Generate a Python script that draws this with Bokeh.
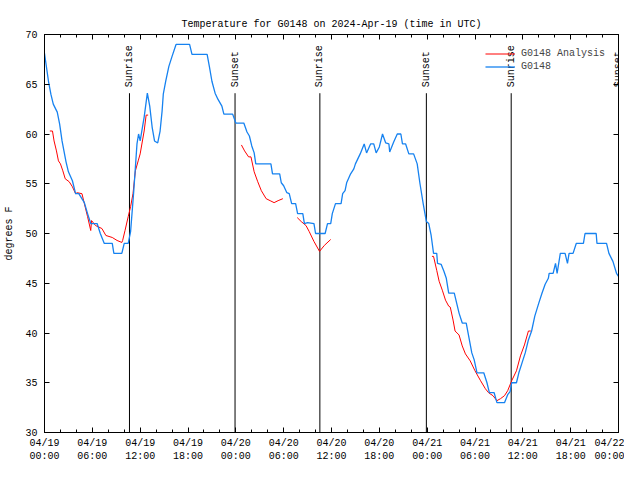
import math
from bokeh.plotting import figure
from bokeh.models import (FixedTicker, LinearAxis, Range1d, ColumnDataSource,
                          LabelSet, Legend, LegendItem, CustomJSTickFormatter)
from bokeh.core.properties import value
from bokeh.embed import file_html
from bokeh.resources import INLINE

NaN = float("nan")

# ---- data: hours since 2024-04-19 00:00 UTC ----
obs_hours = [0.0, 0.5, 0.8, 1.1, 1.6, 1.9, 2.2, 2.7, 3.0, 3.5, 3.9, 4.3, 5.0, 5.4, 5.8,
             6.6, 7.0, 7.5, 8.5, 8.7, 9.7, 10.0, 10.5, 10.8, 11.2, 11.6, 11.8, 12.0, 12.5,
             12.9, 13.2, 13.5, 13.8, 14.2, 14.5, 14.75, 14.9, 15.2, 15.6, 16.0, 16.5,
             18.2, 18.5, 20.4, 20.7, 21.0, 21.4, 21.75, 22.25, 22.5, 23.6, 24.0, 25.0,
             25.4, 25.7, 26.0, 26.3, 26.5, 28.4, 28.6, 29.5, 29.7, 30.0, 30.4, 30.7,
             31.0, 31.5, 31.75, 32.4, 32.6, 33.0, 33.8, 34.0, 35.2, 35.5, 35.9, 36.1,
             36.5, 37.2, 37.4, 37.7, 37.9, 38.4, 38.8, 39.0, 39.6, 40.1, 40.4, 40.9,
             41.3, 41.6, 42.0, 42.4, 42.8, 43.2, 43.3, 43.8, 44.25, 44.7, 44.9, 45.3,
             45.7, 46.3, 46.75, 47.1, 47.5, 47.9, 48.2, 48.5, 48.8, 49.2, 49.3, 49.75,
             50.1, 50.4, 50.7, 51.4, 51.7, 52.0, 52.4, 52.9, 53.2, 53.6, 53.9, 54.25,
             55.1, 55.5, 55.8, 56.4, 56.75, 57.7, 58.1, 58.4, 58.6, 59.2, 59.5, 59.9,
             60.3, 60.7, 61.1, 61.5, 62.0, 62.4, 62.8, 63.2, 63.3, 63.8, 64.1, 64.3,
             64.7, 65.3, 65.6, 65.8, 66.3, 66.7, 67.6, 67.8, 69.2, 69.3, 70.5, 70.8,
             71.3, 71.75, 72.0]
obs_temps = [68.1, 65.3, 64.0, 63.0, 62.2, 61.0, 59.3, 57.2, 56.2, 55.3, 54.0, 54.0, 53.1, 52.0, 51.0,
             51.0, 50.0, 49.0, 49.0, 48.0, 48.0, 49.0, 49.0, 50.2, 54.3, 59.0, 60.0, 59.3, 61.7,
             64.1, 62.8, 60.7, 59.3, 59.1, 60.3, 62.3, 64.0, 65.3, 66.8, 67.8, 69.0,
             69.0, 68.0, 68.0, 66.7, 65.3, 64.1, 63.5, 62.8, 62.0, 62.0, 61.1, 61.1,
             60.2, 59.8, 58.8, 58.1, 57.0, 57.0, 56.0, 56.0, 55.1, 54.8, 54.1, 54.0,
             53.0, 53.0, 52.0, 52.0, 51.0, 51.1, 51.0, 50.0, 50.0, 51.0, 51.0, 52.0,
             53.0, 53.0, 54.0, 54.3, 55.1, 56.0, 56.5, 57.0, 58.0, 59.0, 58.1, 59.0,
             59.0, 58.1, 58.7, 60.0, 59.1, 59.0, 58.2, 59.2, 60.0, 60.0, 59.0, 59.0,
             58.0, 58.0, 57.0, 55.0, 53.0, 51.2, 51.0, 49.8, 48.0, 48.0, 47.0, 46.9,
             46.2, 45.5, 44.0, 44.0, 43.0, 42.0, 41.0, 41.0, 39.7, 38.0, 37.3, 36.0,
             36.0, 35.0, 34.0, 34.0, 33.0, 33.0, 33.8, 34.1, 35.0, 35.0, 36.0, 37.0,
             38.0, 39.3, 40.2, 41.7, 43.0, 44.0, 44.9, 45.5, 46.0, 46.0, 47.0, 46.0,
             48.0, 48.0, 47.0, 48.0, 48.0, 49.0, 49.0, 50.0, 50.0, 49.0, 49.0, 48.0,
             47.2, 46.0, 45.7]

analysis_hours = [0.67, 1.0, 1.2, 1.5, 1.75, 2.0, 2.3, 2.6, 3.1, 3.5, 3.9, 4.1, 4.7, 5.0, 5.4,
                  5.8, 5.9, 6.4, 7.2, 7.7, 8.5, 9.1, 9.7, 9.8, 10.1, 10.5, 10.8, 11.1, 11.4,
                  11.75, 12.0, 12.5, 12.75, 13.0, NaN,
                  24.7, 25.1, 25.6, 25.9, 26.3, 26.75, 27.2, 27.8, 28.3, 28.8, 29.3, 29.9, NaN,
                  31.7, 32.2, 32.8, 33.2, 33.8, 34.5, 35.1, 35.9, NaN,
                  48.6, 48.8, 49.2, 49.5, 49.9, 50.3, 50.7, 50.9, 51.25, 51.5, 52.0, 52.4,
                  52.8, 53.4, 54.0, 54.7, 55.3, 55.7, 56.25, 56.75, 57.2, 57.7, 58.1, 58.6,
                  59.2, 59.7, 60.2, 60.7, 61.0]
analysis_temps = [60.3, 60.3, 59.3, 58.3, 57.3, 57.0, 56.3, 55.5, 55.2, 54.7, 54.0, 54.1, 54.0, 53.0, 51.7,
                  50.3, 51.3, 50.8, 50.5, 49.8, 49.6, 49.3, 49.1, 49.3, 50.3, 51.7, 52.7, 54.0, 56.3,
                  57.3, 58.0, 60.3, 61.9, 61.9, NaN,
                  58.9, 58.3, 57.7, 57.7, 56.2, 55.2, 54.3, 53.5, 53.3, 53.1, 53.3, 53.5, NaN,
                  51.6, 51.2, 50.8, 50.2, 49.2, 48.2, 48.8, 49.4, NaN,
                  47.7, 47.7, 46.3, 45.2, 44.3, 43.3, 42.7, 42.6, 41.3, 40.2, 39.8, 38.7,
                  37.9, 37.2, 36.2, 35.2, 34.4, 34.0, 33.7, 33.2, 33.4, 33.7, 34.2, 35.2,
                  36.2, 37.7, 38.8, 40.2, 40.2]

event_hours = [10.66, 23.9, 34.54, 47.9, 58.54, 72.0]
event_names = ["Sunrise", "Sunset", "Sunrise", "Sunset", "Sunrise", "Sunset"]
event_line_top = 64.1
event_label_y = 64.7

x_ticks = [0, 6, 12, 18, 24, 30, 36, 42, 48, 54, 60, 66, 72]
x_tick_labels = ["04/19\n00:00", "04/19\n06:00", "04/19\n12:00", "04/19\n18:00",
                 "04/20\n00:00", "04/20\n06:00", "04/20\n12:00", "04/20\n18:00",
                 "04/21\n00:00", "04/21\n06:00", "04/21\n12:00", "04/21\n18:00",
                 "04/22\n00:00"]
x_minor = [h for h in range(0, 73, 2) if h % 6 != 0]
y_ticks = [30, 35, 40, 45, 50, 55, 60, 65, 70]

FONT = "Liberation Mono"
RED = "#ff0000"
BLUE = "#1682f0"

p = figure(width=624, height=464, output_backend="svg", toolbar_location=None,
           x_range=Range1d(0, 72), y_range=Range1d(30, 70),
           min_border_left=44, min_border_right=6, min_border_top=34, min_border_bottom=30)
p.title.text = "Temperature for G0148 on 2024-Apr-19 (time in UTC)"
p.title.align = "center"
p.title.text_font = FONT
p.title.text_font_size = "10px"
p.title.text_font_style = "normal"
p.title.text_color = "black"
p.xgrid.visible = False
p.ygrid.visible = False
p.outline_line_color = "black"
p.outline_line_alpha = 1.0
p.background_fill_color = "white"
p.border_fill_color = "white"

xt = FixedTicker(ticks=x_ticks, minor_ticks=x_minor)
yt = FixedTicker(ticks=y_ticks, minor_ticks=[])

xa = p.xaxis[0]
xa.ticker = xt
xa.major_label_overrides = {t: l for t, l in zip(x_ticks, x_tick_labels)}
ya = p.yaxis[0]
ya.ticker = yt
ya.axis_label = "degrees F"

for ax in (xa, ya):
    ax.major_tick_in = 5
    ax.major_tick_out = 0
    ax.minor_tick_in = 3
    ax.minor_tick_out = 0
    ax.axis_line_color = "black"
    ax.major_tick_line_color = "black"
    ax.minor_tick_line_color = "black"
    ax.major_label_text_font = FONT
    ax.major_label_text_font_size = "10px"
    ax.major_label_text_color = "black"
    ax.axis_label_text_font = FONT
    ax.axis_label_text_font_size = "10px"
    ax.axis_label_text_font_style = "normal"
    ax.axis_label_text_color = "black"
xa.major_label_standoff = 5
ya.major_label_standoff = 7
ya.axis_label_standoff = 7

blank = CustomJSTickFormatter(code="return ''")
for loc, tk in (("right", yt), ("above", xt)):
    ax = LinearAxis(ticker=tk, formatter=blank, major_tick_in=5, major_tick_out=0,
                    minor_tick_in=3, minor_tick_out=0, major_label_standoff=0,
                    axis_line_color="black")
    p.add_layout(ax, loc)

# sunrise / sunset markers
ev = ColumnDataSource(dict(x=event_hours, name=event_names,
                           y0=[30] * len(event_hours),
                           y1=[event_line_top] * len(event_hours),
                           ly=[event_label_y] * len(event_hours)))
p.segment(x0="x", y0="y0", x1="x", y1="y1", source=ev, line_color="black", line_width=1)
labels = LabelSet(x="x", y="ly", text="name", source=ev, angle=math.pi / 2,
                  text_align="left", text_baseline="middle",
                  text_font=value(FONT), text_font_size=value("10px"), text_color="black")
p.add_layout(labels)

r_an = p.line(analysis_hours, analysis_temps, line_color=RED, line_width=1)
r_ob = p.line(obs_hours, obs_temps, line_color=BLUE, line_width=1.3)

legend = Legend(items=[LegendItem(label="G0148 Analysis", renderers=[r_an]),
                       LegendItem(label="G0148", renderers=[r_ob])],
                location="top_right", background_fill_alpha=0, border_line_alpha=0,
                label_text_font=FONT, label_text_font_size="10px",
                glyph_width=30, glyph_height=13, label_height=13, spacing=0,
                padding=3, margin=10, label_standoff=6)
p.add_layout(legend)

open("out.html", "w").write(file_html(p, INLINE))
